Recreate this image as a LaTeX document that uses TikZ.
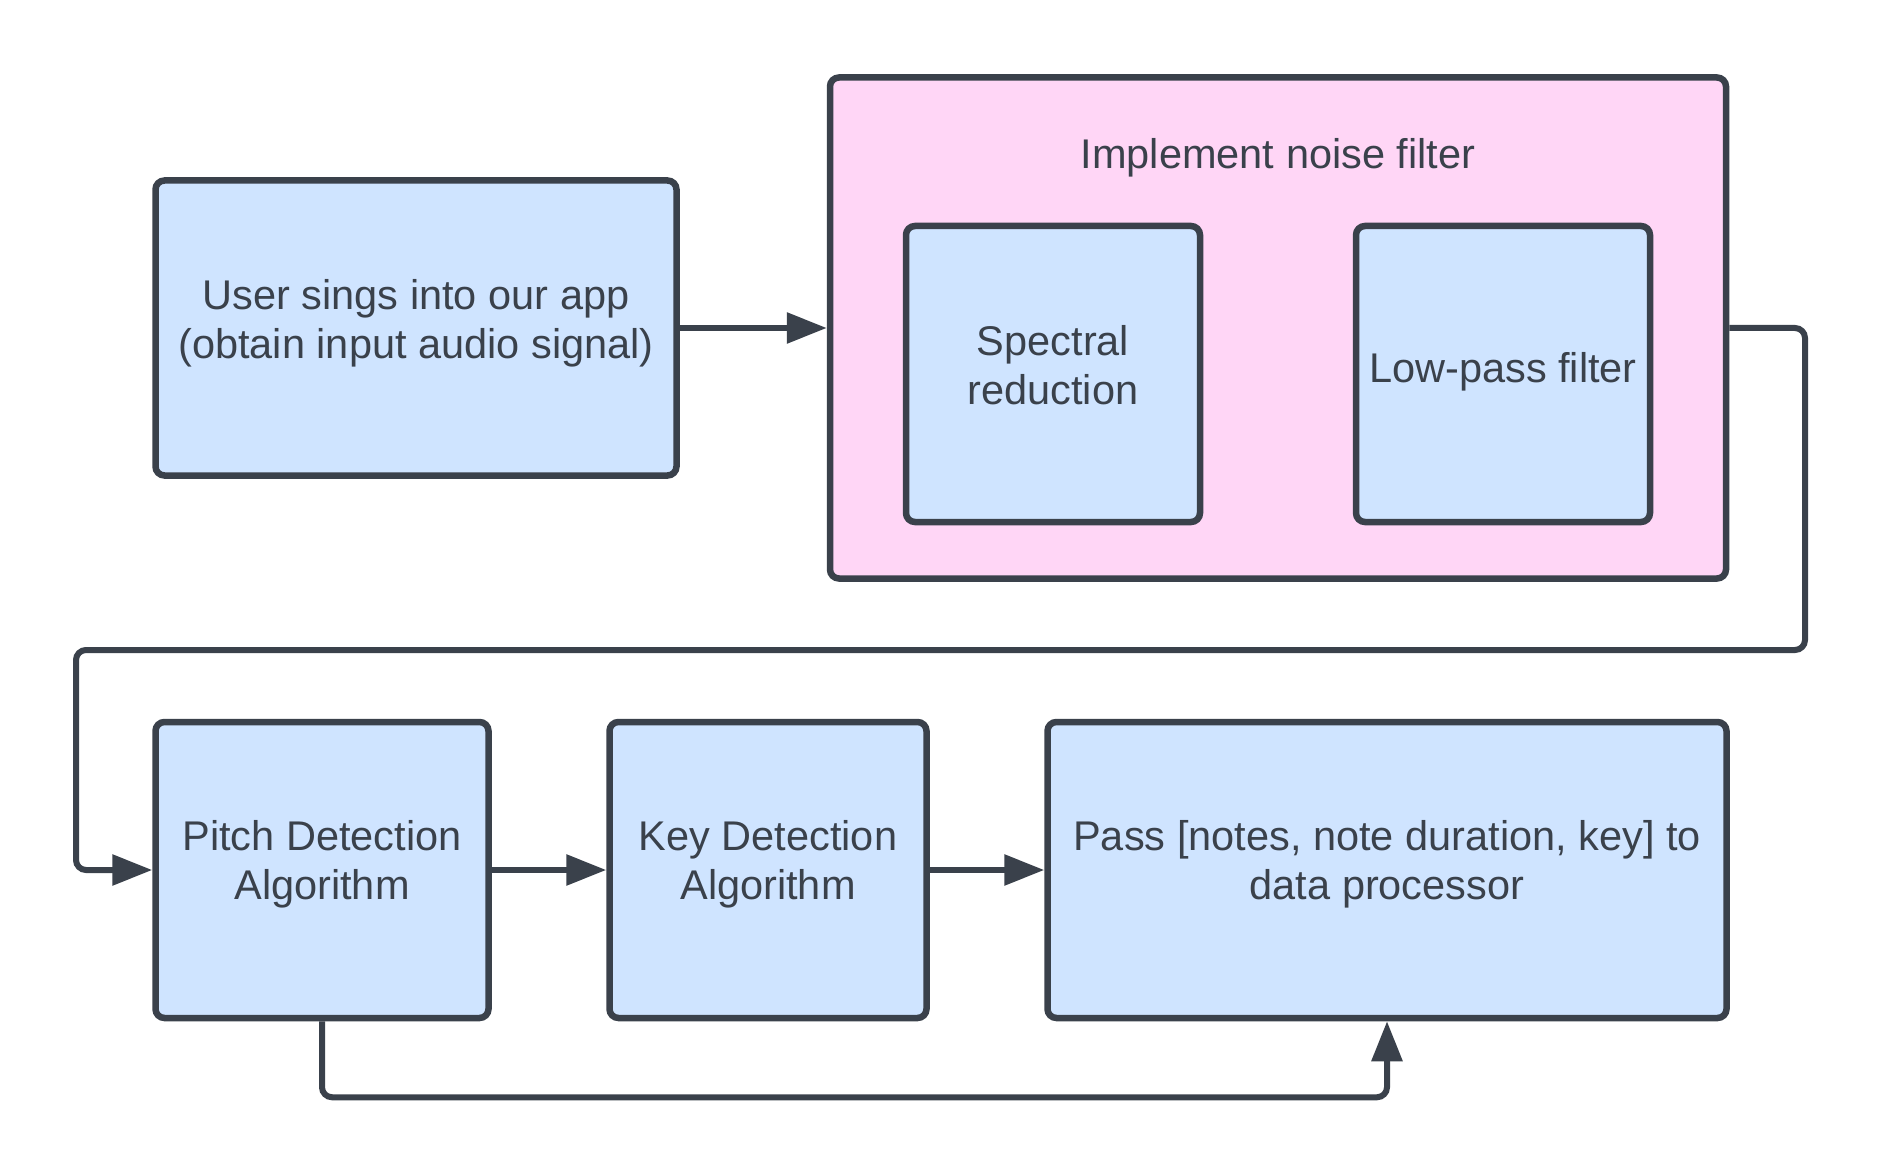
\documentclass[tikz,border=0pt]{standalone}
\usepackage{fontspec}
\setmainfont{Liberation Sans}
\usetikzlibrary{arrows.meta}
\definecolor{ink}{HTML}{3A414B}
\definecolor{boxblue}{HTML}{CFE4FF}
\definecolor{boxpink}{HTML}{FFD6F6}
\newcommand{\uptext}[2]{\raisebox{#1}[\height][\depth]{\begin{tabular}{@{}c@{}}#2\end{tabular}}}
\begin{document}
\begin{tikzpicture}[x=1pt,y=-1pt,
  blk/.style={draw=ink, line width=6.5pt, rounded corners=9pt, fill=boxblue,
    text=ink, inner sep=0pt,
    font=\fontsize{41.5}{49}\selectfont},
  grp/.style={draw=ink, line width=6.5pt, rounded corners=9pt, fill=boxpink, inner sep=0pt},
  conn/.style={draw=ink, line width=6pt, rounded corners=10pt,
    -{Triangle[length=40pt,width=30pt]}},
  lbl/.style={text=ink, font=\fontsize{41.5}{49}\selectfont}]
\useasboundingbox (0,0) rectangle (1883,1174);
% group
\node[grp, minimum width=896pt, minimum height=501pt] (pink) at (1278,328) {};
\node[lbl] (title) at (1278,158) {Implement noise filter};
% boxes
\node[blk, minimum width=521pt, minimum height=295pt] (user) at (416,328)
  {\uptext{4pt}{User sings into our app\\(obtain input audio signal)}};
\node[blk, minimum width=294pt, minimum height=296pt] (spec) at (1053,374)
  {\uptext{4pt}{Spectral\\reduction}};
\node[blk, minimum width=294pt, minimum height=296pt] (low) at (1503,374)
  {\uptext{1pt}{Low-pass filter}};
\node[blk, minimum width=333pt, minimum height=296pt] (pitch) at (322,870)
  {\uptext{5pt}{Pitch Detection\\Algorithm}};
\node[blk, minimum width=317pt, minimum height=296pt] (key) at (768,870)
  {\uptext{5pt}{Key Detection\\Algorithm}};
\node[blk, minimum width=679pt, minimum height=296pt] (pass) at (1387,870)
  {\uptext{5pt}{Pass [notes, note duration, key] to\\data processor}};
% connectors
\coordinate (loopR) at (1805,650);
\coordinate (loopL) at (76,650);
\draw[conn] (user.east) -- (pink.west);
\draw[conn] (pink.east) -| (loopR) -- (loopL) |- (pitch.west);
\draw[conn] (pitch.east) -- (key.west);
\draw[conn] (key.east) -- (pass.west);
\draw[conn] (pitch.south) -- ++(0,76) -| (pass.south);
\end{tikzpicture}
\end{document}
